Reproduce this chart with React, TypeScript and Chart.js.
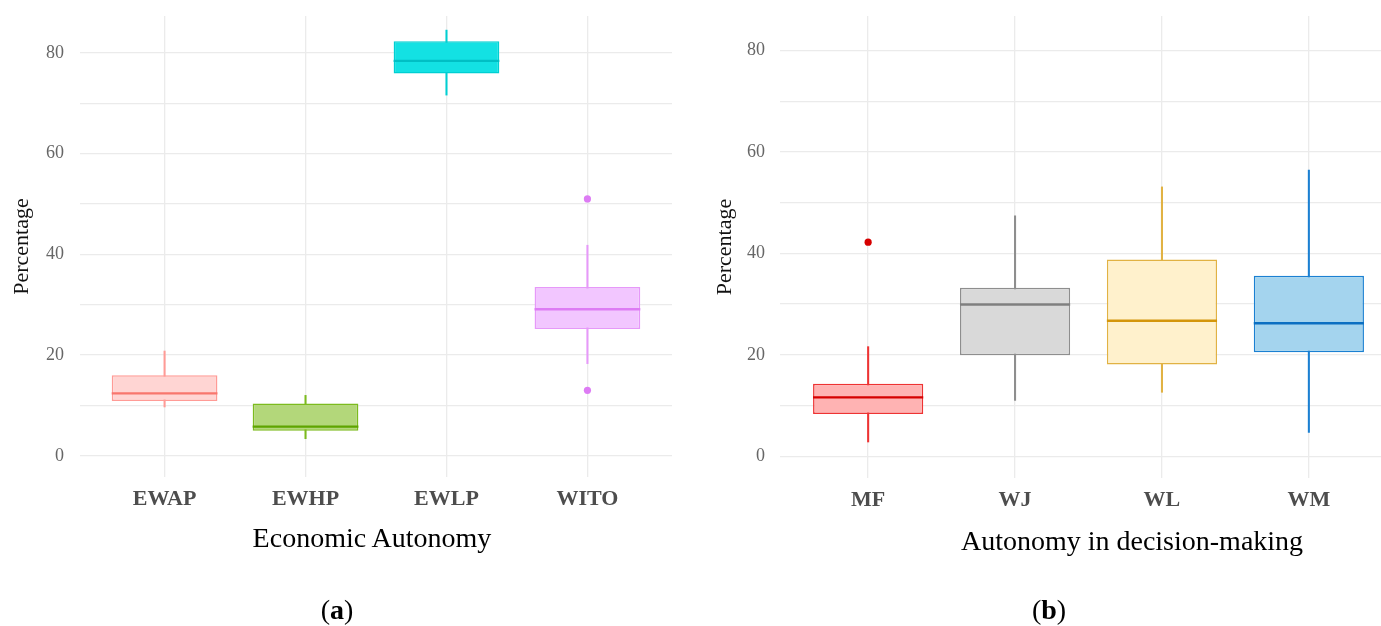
import React, { useEffect, useRef } from 'react';
import { Chart, registerables } from 'chart.js';

Chart.register(...registerables);

const FONT = '"Liberation Serif", "Times New Roman", serif';

// ---- Panel (a): Economic Autonomy ----
const LEFT_CATS = ['EWAP', 'EWHP', 'EWLP', 'WITO'];
const LEFT_LOW = [9.7, 3.4, 71.6, 18.3];
const LEFT_Q1 = [10.9, 5.0, 75.9, 25.2];
const LEFT_MEDIAN = [12.4, 5.8, 78.4, 29.1];
const LEFT_Q3 = [16.0, 10.4, 82.3, 33.5];
const LEFT_HIGH = [20.8, 12.0, 84.5, 41.8];
const LEFT_OUT_CAT = [4, 4];
const LEFT_OUT_VAL = [51.0, 13.0];

// ---- Panel (b): Autonomy in decision-making ----
const RIGHT_CATS = ['MF', 'WJ', 'WL', 'WM'];
const RIGHT_LOW = [2.8, 11.0, 12.6, 4.7];
const RIGHT_Q1 = [8.3, 19.9, 18.1, 20.5];
const RIGHT_MEDIAN = [11.6, 29.9, 26.7, 26.2];
const RIGHT_Q3 = [14.3, 33.2, 38.8, 35.6];
const RIGHT_HIGH = [21.6, 47.4, 53.1, 56.4];
const RIGHT_OUT_CAT = [1];
const RIGHT_OUT_VAL = [42.2];

const Y_TICKS = [0, 10, 20, 30, 40, 50, 60, 70, 80];

// styles
const LEFT_FILL = ['#FFD5D3', '#B3D77A', '#13E1E3', '#F2C6FF'];
const LEFT_BORDER = ['#FF9B96', '#7CBB1E', '#00CFD2', '#E699F9'];
const LEFT_MED_COLOR = ['#F8766D', '#5EA400', '#00BFC4', '#DD7CF4'];
const RIGHT_FILL = ['#FFB3B3', '#D9D9D9', '#FFF1CC', '#A4D4EE'];
const RIGHT_BORDER = ['#EE3333', '#8E8E8E', '#E1B243', '#1B80D2'];
const RIGHT_MED_COLOR = ['#D60000', '#7F7F7F', '#D4960A', '#0B6FC2'];

const GRID = '#ebebeb';
const BOX_WIDTH = 0.75;

type PanelProps = {
  cats: string[];
  low: number[];
  q1: number[];
  med: number[];
  q3: number[];
  high: number[];
  outCat: number[];
  outVal: number[];
  fill: string[];
  border: string[];
  medColor: string[];
  width: number;
  height: number;
  left: number;
  xMax: number;
  yMin: number;
  yMax: number;
  padTop: number;
  padRight: number;
  yAxisWidth: number;
  xAxisHeight: number;
  yTickPad: number;
  yTitlePad: number;
};

function BoxPanel(p: PanelProps) {
  const ref = useRef<HTMLCanvasElement | null>(null);
  useEffect(() => {
    if (!ref.current) return;
    const xs = p.cats.map((_, i) => i + 1);
    const halfBox = (ctx: any) => {
      const s = ctx.chart.scales.x;
      if (!s) return 50;
      return Math.abs(s.getPixelForValue(1 + BOX_WIDTH / 2) - s.getPixelForValue(1));
    };
    const chart = new Chart(ref.current, {
      type: 'bar',
      data: {
        datasets: [
          {
            type: 'scatter',
            order: 0,
            data: p.outCat.map((c, i) => ({ x: c, y: p.outVal[i] })),
            pointRadius: 3.6,
            pointBackgroundColor: p.outCat.map((c) => p.medColor[c - 1]),
            pointBorderColor: p.outCat.map((c) => p.medColor[c - 1]),
            pointBorderWidth: 0,
          } as any,
          {
            type: 'scatter',
            order: 1,
            data: xs.map((x) => ({ x, y: p.med[x - 1] })),
            pointStyle: 'line',
            pointRadius: halfBox,
            pointBorderWidth: 2.4,
            pointBorderColor: p.medColor,
            pointBackgroundColor: p.medColor,
          } as any,
          {
            type: 'bar',
            order: 2,
            grouped: false,
            data: xs.map((x) => ({ x, y: [p.q1[x - 1], p.q3[x - 1]] })),
            backgroundColor: p.fill,
            borderColor: p.border,
            borderWidth: 1.5,
            borderSkipped: false,
            categoryPercentage: BOX_WIDTH,
            barPercentage: 1,
          } as any,
          {
            type: 'bar',
            order: 3,
            grouped: false,
            data: xs.map((x) => ({ x, y: [p.low[x - 1], p.high[x - 1]] })),
            backgroundColor: p.border,
            borderWidth: 0,
            barThickness: 1.4,
          } as any,
        ],
      },
      options: {
        animation: false,
        responsive: false,
        devicePixelRatio: 1,
        layout: { padding: { left: 0, top: p.padTop, right: p.padRight, bottom: 0 } },
        plugins: { legend: { display: false }, tooltip: { enabled: false } },
        scales: {
          x: {
            type: 'linear',
            min: 0.4,
            max: p.xMax,
            offset: false,
            afterBuildTicks: (s: any) => {
              s.ticks = xs.map((v) => ({ value: v }));
            },
            afterFit: (s: any) => {
              s.height = p.xAxisHeight;
              s.paddingLeft = 0;
              s.paddingRight = 0;
            },
            grid: { color: GRID, lineWidth: 1.3, drawTicks: false, offset: false },
            border: { display: false },
            ticks: {
              padding: 9,
              color: '#4d4d4d',
              autoSkip: false,
              maxRotation: 0,
              font: { family: FONT, size: 22, weight: 'bold' },
              callback: (v: any) => p.cats[Number(v) - 1] ?? '',
            },
          },
          y: {
            type: 'linear',
            min: p.yMin,
            max: p.yMax,
            afterBuildTicks: (s: any) => {
              s.ticks = Y_TICKS.map((v) => ({ value: v }));
            },
            afterFit: (s: any) => {
              s.width = p.yAxisWidth;
              s.paddingTop = 0;
              s.paddingBottom = 0;
            },
            grid: { color: GRID, lineWidth: 1.3, drawTicks: false },
            border: { display: false },
            ticks: {
              padding: p.yTickPad,
              color: '#666666',
              font: { family: FONT, size: 18 },
              callback: (v: any) => (Number(v) % 20 === 0 ? String(v) : ''),
            },
            title: {
              display: true,
              text: 'Percentage',
              color: '#111111',
              font: { family: FONT, size: 22 },
              padding: { top: p.yTitlePad, bottom: 0 },
            },
          },
        },
      } as any,
    });
    return () => chart.destroy();
  }, []);
  return (
    <canvas
      ref={ref}
      width={p.width}
      height={p.height}
      style={{ position: 'absolute', left: p.left, top: 0, width: p.width, height: p.height }}
    />
  );
}

const textStyle = (left: number, top: number, size: number): React.CSSProperties => ({
  position: 'absolute',
  left,
  top,
  transform: 'translateX(-50%)',
  fontFamily: FONT,
  fontSize: size,
  lineHeight: `${size}px`,
  color: '#000',
  whiteSpace: 'nowrap',
});

export default function App() {
  return (
    <div
      style={{
        position: 'absolute',
        left: 0,
        top: 0,
        width: 1381,
        height: 626,
        background: '#fff',
        overflow: 'hidden',
      }}
    >
      <BoxPanel
        cats={LEFT_CATS}
        low={LEFT_LOW}
        q1={LEFT_Q1}
        med={LEFT_MEDIAN}
        q3={LEFT_Q3}
        high={LEFT_HIGH}
        outCat={LEFT_OUT_CAT}
        outVal={LEFT_OUT_VAL}
        fill={LEFT_FILL}
        border={LEFT_BORDER}
        medColor={LEFT_MED_COLOR}
        width={690}
        height={626}
        left={0}
        xMax={4.6}
        yMin={-4.2}
        yMax={87.3}
        padTop={16}
        padRight={18}
        yAxisWidth={80}
        xAxisHeight={149}
        yTickPad={16}
        yTitlePad={9}
      />
      <BoxPanel
        cats={RIGHT_CATS}
        low={RIGHT_LOW}
        q1={RIGHT_Q1}
        med={RIGHT_MEDIAN}
        q3={RIGHT_Q3}
        high={RIGHT_HIGH}
        outCat={RIGHT_OUT_CAT}
        outVal={RIGHT_OUT_VAL}
        fill={RIGHT_FILL}
        border={RIGHT_BORDER}
        medColor={RIGHT_MED_COLOR}
        width={711}
        height={626}
        left={690}
        xMax={4.491}
        yMin={-4.3}
        yMax={86.8}
        padTop={16}
        padRight={20}
        yAxisWidth={90}
        xAxisHeight={148}
        yTickPad={15}
        yTitlePad={22}
      />
      <div style={textStyle(372, 524, 28)}>Economic Autonomy</div>
      <div style={textStyle(1132, 527, 28)}>Autonomy in decision-making</div>
      <div style={textStyle(337, 596, 28)}>
        (<b>a</b>)
      </div>
      <div style={textStyle(1049, 596, 28)}>
        (<b>b</b>)
      </div>
    </div>
  );
}
